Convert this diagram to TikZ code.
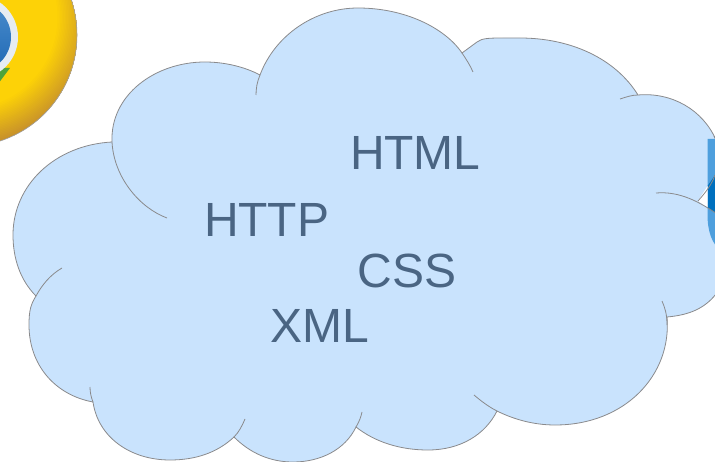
\documentclass[tikz,border=0pt]{standalone}
\usepackage{fontspec}
\setmainfont{Liberation Sans}
\definecolor{cloudfill}{HTML}{C9E3FD}
\definecolor{cloudline}{HTML}{8A8A8C}
\definecolor{labelcol}{HTML}{4A6583}
\definecolor{chromeyellow}{HTML}{FDD207}
\definecolor{chromeedge}{HTML}{C8922A}
\definecolor{chromegreen}{HTML}{4FA33A}
\definecolor{ringwhite}{HTML}{E6ECF2}
\definecolor{bluetop}{HTML}{4A8CCC}
\definecolor{bluebot}{HTML}{1F69B4}
\definecolor{logolight}{HTML}{4E9FDD}
\definecolor{logodark}{HTML}{0070BE}
\tikzset{
  cloudstroke/.style={draw=cloudline,line width=0.8pt},
  lobe/.style={draw=cloudline,line width=0.8pt},
  tech/.style={text=labelcol,font=\fontsize{48}{48}\selectfont,anchor=base west,inner sep=0pt,outer sep=0pt},
}
\begin{document}
\begin{tikzpicture}[x=1pt,y=-1pt]
\useasboundingbox (0,0) rectangle (715,462);
\begin{scope}
\clip (0,0) rectangle (715,462);
% browser logo: a ball that darkens towards its lower edge
\begin{scope}
\clip (-34.5,35) circle (111.5);
\fill[chromeedge] (-34.5,35) circle (111.5);
\foreach \i in {0,1,...,24}{
  \pgfmathsetmacro{\rad}{128-\i*1.5}
  \pgfmathsetmacro{\mix}{\i*100/24}
  \fill[chromeyellow!\mix!chromeedge] (-34.5,17) circle (\rad);
}
\end{scope}
\draw[cloudline!80,line width=0.6pt] (-34.5,35) circle (111.5);
\fill[chromegreen] (-2,68) -- (10,68) -- (-2,84) -- cycle;
\fill[ringwhite] (-24,37) circle (42);
\shade[top color=bluetop,bottom color=bluebot] (-24,37) circle (35);
% cloud
\path[fill=cloudfill,cloudstroke]
  (112,142)
  .. controls (110,95) and (155,62) .. (205,62)
  .. controls (225,62) and (245,67) .. (260,75)
  .. controls (275,35) and (315,8) .. (358,8)
  .. controls (405,8) and (445,28) .. (462,53)
  -- (477,42)
  .. controls (482,38) and (490,38) .. (505,38)
  -- (520,38)
  .. controls (570,38) and (615,58) .. (638,95)
  .. controls (672,92) and (703,110) .. (716,140)
  -- (722,140) -- (722,292) -- (716,294)
  .. controls (705,308) and (690,315) .. (667,317)
  .. controls (672,375) and (625,425) .. (555,425)
  .. controls (533,425) and (513,419) .. (497,411)
  .. controls (485,435) and (460,450) .. (428,450)
  .. controls (400,450) and (375,442) .. (356,427)
  .. controls (345,450) and (320,462) .. (293,462)
  .. controls (270,462) and (250,453) .. (234,437)
  .. controls (217,453) and (195,460) .. (170,460)
  .. controls (130,460) and (98,437) .. (93,402)
  .. controls (55,395) and (29,365) .. (29,325)
  .. controls (29,310) and (31,304) .. (36,296)
  .. controls (20,280) and (13,258) .. (13,235)
  .. controls (13,185) and (55,145) .. (112,142)
  -- cycle;
% logo at the right edge
\fill[logolight] (707.5,139) -- (720,139) -- (720,250) .. controls (712,243) and (707.5,232) .. (707.5,214) -- cycle;
\fill[logodark] (707.5,186) -- (720,168) -- (720,216) -- (707.5,207.5) -- cycle;
\fill[white] (707.5,186) -- (698,201) -- (707.5,207.5) -- cycle;
% inner lobe arcs
\draw[lobe] (112,142) .. controls (114,178) and (140,208) .. (167,218);
\draw[lobe] (260,75) .. controls (257,82) and (256,89) .. (256,95);
\draw[lobe] (462,53) .. controls (466,59) and (470,65) .. (473,72);
\draw[lobe] (638,95) .. controls (632,95) and (626,97) .. (620,99);
\draw[lobe] (716,140) -- (714,136);
\draw[lobe] (656,193) .. controls (680,191) and (700,202) .. (720,216);
\draw[lobe] (698,201) .. controls (706,192) and (712,184) .. (715,175);
\draw[lobe] (662,301) .. controls (665,308) and (667,314) .. (667,325);
\draw[lobe] (474,395) .. controls (481,401) and (489,407) .. (497,411);
\draw[lobe] (356,427) .. controls (359,422) and (361,417) .. (362,412);
\draw[lobe] (234,437) .. controls (239,432) and (242,426) .. (245,419);
\draw[lobe] (93,402) .. controls (91,397) and (90,392) .. (90,387);
\draw[lobe] (36,296) .. controls (42,285) and (50,275) .. (62,268);
\end{scope}
% labels
\node[tech] (html) at (350,170) {HTML};
\node[tech] (http) at (204,237) {HTTP};
\node[tech] (css) at (357.5,288) {CSS};
\node[tech] (xml) at (270.5,343) {XML};
\end{tikzpicture}
\end{document}
